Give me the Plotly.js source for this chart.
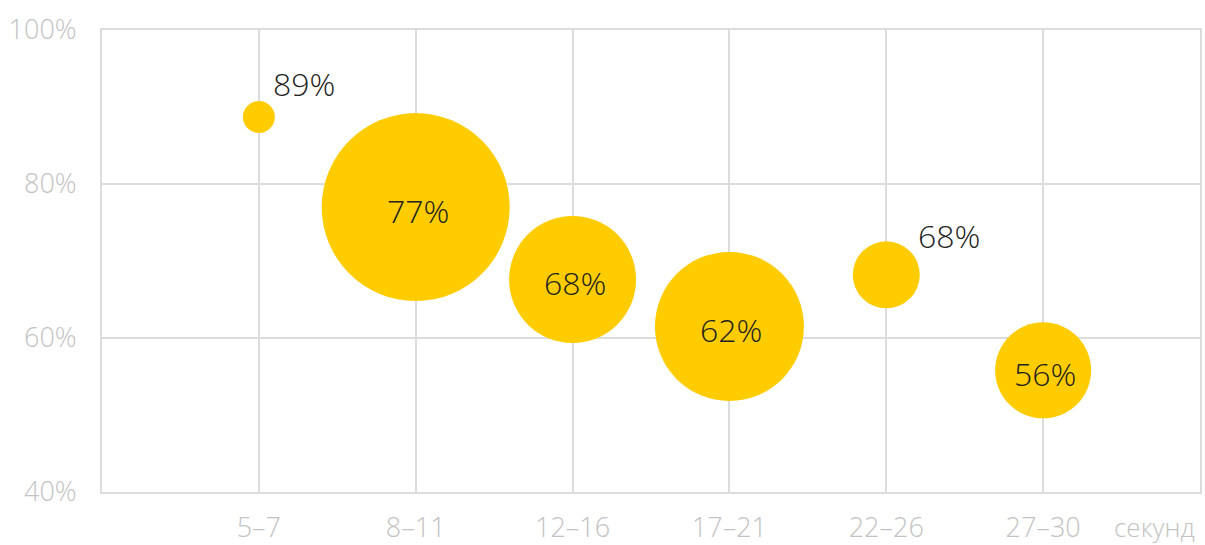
<!DOCTYPE html>
<html>
<head>
<meta charset="utf-8">
<script src="https://cdn.plot.ly/plotly-3.0.1.min.js"></script>
<style>html,body{margin:0;padding:0;background:#fff;}#chart{width:1205px;height:545px;}</style>
</head>
<body>
<div id="chart"></div>
<script>
const categories = ['5–7', '8–11', '12–16', '17–21', '22–26', '27–30'];
const shareValues = [88.7, 77.0, 67.6, 61.5, 68.2, 55.8];
const shareLabels = ['89%', '77%', '68%', '62%', '68%', '56%'];
const bubbleSizes = [32, 188, 127, 149, 67, 96];
const labelOutside = [true, false, false, false, true, false];
const yTickValues = [40, 60, 80, 100];
const yTickLabels = ['40%', '60%', '80%', '100%'];
const unitLabel = 'секунд';

const FONT = '"Open Sans", "DejaVu Sans", sans-serif';
const GRID = '#dcdcdc';
const TICK = '#c3c3c3';
const LABEL_FONT = {family: FONT, size: 32, color: '#222', weight: 300};
const TICK_FONT = {family: FONT, size: 27, color: TICK, weight: 300};

const trace = {
  type: 'scatter',
  mode: 'markers',
  x: categories,
  y: shareValues,
  marker: {
    size: bubbleSizes,
    sizemode: 'diameter',
    sizeref: 1,
    color: '#ffcc00',
    opacity: 1,
    line: {width: 0}
  },
  cliponaxis: false,
  hoverinfo: 'skip'
};

const annotations = categories.map((c, i) => {
  const r = bubbleSizes[i] / 2;
  const outside = labelOutside[i];
  return {
    x: c, y: shareValues[i], xref: 'x', yref: 'y',
    text: shareLabels[i], showarrow: false,
    xanchor: outside ? 'left' : 'center', yanchor: 'middle',
    xshift: outside ? r - 4 : 2,
    yshift: outside ? 0.3 * r + 29 : -3,
    font: LABEL_FONT
  };
});
annotations.push({
  xref: 'paper', yref: 'paper',
  x: 1, y: 0,
  xanchor: 'right', yanchor: 'top',
  xshift: -4, yshift: -16,
  text: unitLabel,
  showarrow: false,
  borderpad: 0,
  font: {family: FONT, size: 26, color: TICK, weight: 300}
});

const layout = {
  width: 1205,
  height: 545,
  margin: {l: 102, r: 5, t: 30, b: 53},
  paper_bgcolor: '#fff',
  plot_bgcolor: '#fff',
  showlegend: false,
  font: {family: FONT, color: TICK},
  xaxis: {
    type: 'category',
    range: [-1, 6],
    showgrid: true,
    gridcolor: GRID,
    gridwidth: 2,
    showline: true,
    mirror: true,
    linecolor: GRID,
    linewidth: 2,
    zeroline: false,
    ticks: '',
    ticklabelstandoff: 11,
    tickfont: TICK_FONT,
    fixedrange: true
  },
  yaxis: {
    range: [40, 100],
    tickmode: 'array',
    tickvals: yTickValues,
    ticktext: yTickLabels,
    showgrid: true,
    gridcolor: GRID,
    gridwidth: 2,
    showline: true,
    mirror: true,
    linecolor: GRID,
    linewidth: 2,
    zeroline: false,
    ticks: '',
    ticklabelstandoff: 18,
    tickfont: TICK_FONT,
    fixedrange: true
  },
  annotations: annotations
};

Plotly.newPlot('chart', [trace], layout, {displayModeBar: false, staticPlot: true});
</script>
</body>
</html>
